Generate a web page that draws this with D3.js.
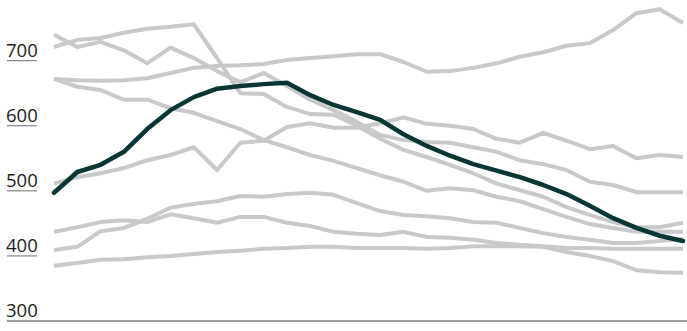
<!DOCTYPE html>
<html>
<head>
<meta charset="utf-8">
<script src="https://cdn.jsdelivr.net/npm/d3@7"></script>
<style>
  html, body { margin: 0; padding: 0; background: #fff; }
  svg { display: block; }
  .tick-label { font-family: "Open Sans", "Noto Sans", sans-serif; font-size: 18.5px; fill: #1c1c1c; }
</style>
</head>
<body>
<svg id="chart" width="687" height="331"></svg>
<script>
// Value ticks on the vertical scale
const yTicks = [300, 400, 500, 600, 700];

// Highlighted series
const highlight = [497, 529, 540, 560, 595, 624, 644, 657, 661, 664, 666, 647, 632, 621,
                   609, 587, 569, 554, 541, 531, 521, 509, 495, 477, 458, 443, 431, 423];

// Background comparison series
const seriesA = [740, 721, 729, 716, 696, 720, 704, 684, 667, 681, 661, 640, 624, 606,
                 586, 578, 575, 574, 567, 560, 547, 541, 532, 514, 509, 498, 498, 498];
const seriesB = [721, 732, 735, 743, 749, 752, 756, 704, 650, 649, 629, 618, 617, 600,
                 580, 563, 552, 540, 527, 511, 501, 491, 475, 463, 452, 444, 444, 451];
const seriesC = [672, 670, 669, 670, 673, 681, 689, 692, 693, 695, 701, 704, 707, 710,
                 710, 698, 683, 684, 689, 696, 706, 713, 723, 727, 747, 773, 779, 758];
const seriesD = [672, 660, 655, 640, 640, 627, 620, 607, 595, 578, 567, 555, 546, 535,
                 524, 514, 500, 504, 501, 491, 484, 472, 460, 449, 443, 437, 437, 437];
const seriesE = [511, 521, 527, 535, 547, 555, 567, 532, 574, 577, 598, 604, 597, 597,
                 604, 613, 603, 600, 595, 580, 574, 589, 577, 564, 569, 550, 555, 552];
const seriesF = [437, 444, 452, 455, 452, 464, 458, 451, 460, 460, 451, 446, 437, 434,
                 432, 437, 429, 428, 425, 420, 417, 415, 412, 412, 411, 411, 411, 411];
const seriesG = [409, 414, 438, 443, 457, 474, 480, 484, 492, 491, 495, 497, 494, 481,
                 469, 463, 461, 458, 452, 451, 443, 435, 429, 425, 420, 420, 423, 426];
const seriesH = [385, 389, 394, 395, 398, 400, 403, 406, 408, 411, 412, 414, 414, 412,
                 412, 412, 411, 412, 415, 415, 415, 414, 406, 400, 392, 378, 375, 374];

const background = [seriesA, seriesB, seriesC, seriesD, seriesE, seriesF, seriesG, seriesH];

const svg = d3.select("#chart");

const x = d3.scaleLinear().domain([0, highlight.length - 1]).range([54, 683]);
const y = d3.scaleLinear().domain([300, 700]).range([321, 60.7]);

const line = d3.line()
  .x((d, i) => x(i))
  .y(d => y(d));

// Tick labels sitting on short underlines
const tickG = svg.append("g");
yTicks.forEach(t => {
  if (t !== 300) {
    tickG.append("line")
      .attr("x1", 7).attr("x2", 37)
      .attr("y1", y(t)).attr("y2", y(t))
      .attr("stroke", "#6e6e6e").attr("stroke-width", 1);
  }
  tickG.append("text")
    .attr("class", "tick-label")
    .attr("x", 6)
    .attr("y", y(t) - 4)
    .text(t);
});

// Baseline
svg.append("line")
  .attr("x1", 7).attr("x2", 687)
  .attr("y1", y(300)).attr("y2", y(300))
  .attr("stroke", "#3a3a3a").attr("stroke-width", 1.2);

// Grey comparison lines
svg.append("g")
  .selectAll("path")
  .data(background)
  .join("path")
  .attr("d", line)
  .attr("fill", "none")
  .attr("stroke", "#c9c9cb")
  .attr("stroke-width", 4)
  .attr("stroke-linejoin", "round");

// Highlighted line on top
svg.append("path")
  .datum(highlight)
  .attr("d", line)
  .attr("fill", "none")
  .attr("stroke", "#073636")
  .attr("stroke-width", 4.5)
  .attr("stroke-linejoin", "round")
  .attr("stroke-linecap", "round");
</script>
</body>
</html>
